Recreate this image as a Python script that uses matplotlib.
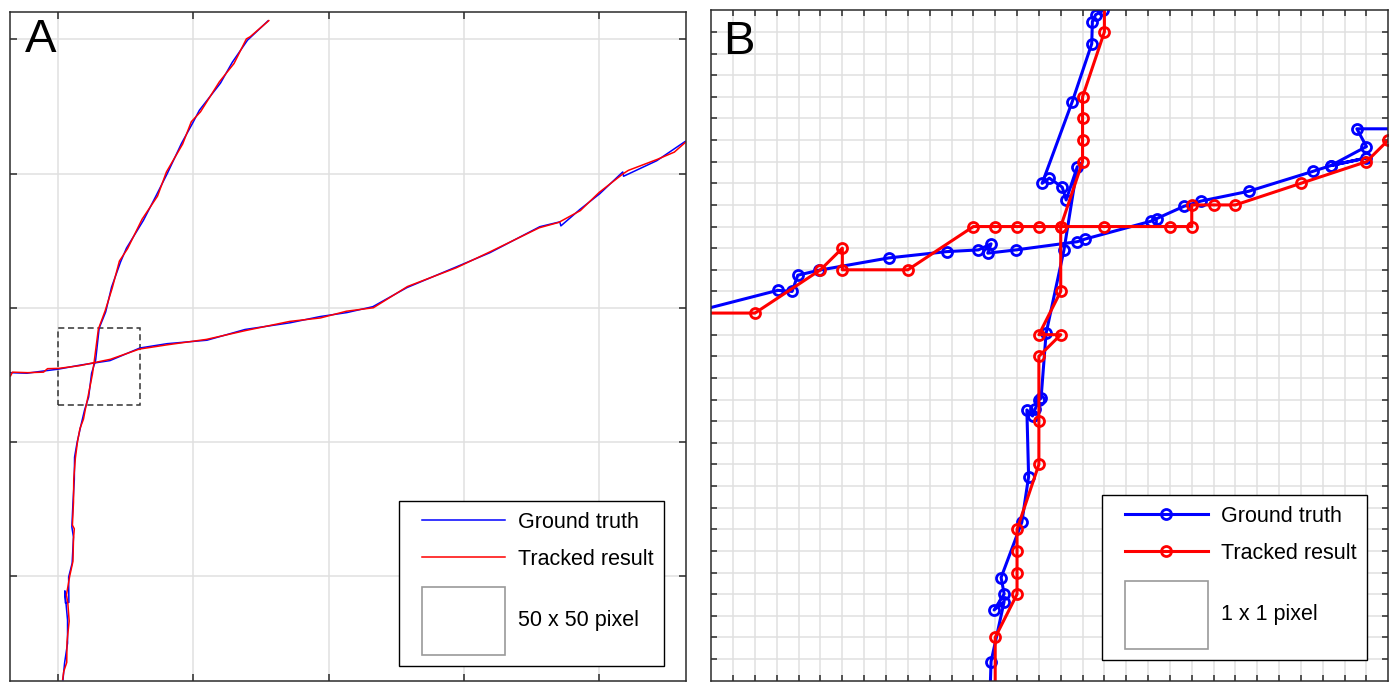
import matplotlib
matplotlib.use("Agg")
import matplotlib.pyplot as plt
from matplotlib.patches import Rectangle
from matplotlib.legend_handler import HandlerLine2D, HandlerBase

plt.rcParams['font.family'] = ['Liberation Sans', 'DejaVu Sans']

# ---------------- Panel A data (image pixel coordinates) ----------------
a_gt1_x = [51.7, 52.3, 53.4, 53.4, 52.4, 52.6, 53.9, 53.8, 55.1, 55.6, 55.0, 55.4, 55.9, 56.0,
           56.9, 58.2, 59.7, 61.2, 62.3, 63.8, 65.1, 67.5, 69.7, 73.0, 75.2, 81.5, 86.3,
           90.4, 95.6, 99.7, 102.2, 110.0, 114.4, 120.0, 127.6]
a_gt1_y = [11.3, 17.6, 25.0, 33.6, 44.5, 40.0, 40.2, 49.6, 54.8, 64.5, 68.3, 77.2, 85.8, 94.3,
           99.6, 105.5, 111.9, 116.7, 125.6, 130.5, 142.4, 148.4, 157.7, 167.0, 172.2, 182.6, 192.0,
           200.2, 211.3, 218.8, 223.6, 233.7, 241.5, 249.7, 256.9]
a_tr1_x = [51.6, 52.0, 53.1, 53.2, 54.0, 53.5, 53.0, 54.2, 55.4, 55.6, 55.9, 55.2, 55.6, 55.7,
           56.3, 57.1, 58.0, 59.3, 60.0, 61.0, 62.6, 63.4, 64.8, 67.3, 69.9, 72.6, 75.6, 81.0,
           86.7, 90.0, 96.0, 99.2, 102.6, 109.6, 115.0, 119.6, 121.0, 127.9]
a_tr1_y = [11.5, 14.5, 17.8, 25.5, 33.2, 40.0, 43.0, 50.0, 55.5, 64.0, 67.6, 69.0, 77.5, 86.2,
           94.0, 100.2, 105.0, 108.5, 112.2, 117.0, 125.2, 131.0, 142.0, 148.8, 157.2, 167.4, 172.0, 183.0,
           191.6, 200.6, 211.0, 219.3, 223.0, 234.2, 241.0, 250.2, 251.0, 257.0]
a_gt2_x = [32.1, 38.4, 44.3, 49.9, 58.0, 69.1, 80.2, 90.2, 105.0, 119.1, 135.8, 146.8, 156.8,
           166.4, 179.0, 197.5, 209.7, 228.2, 235.6, 236.0, 243.0, 250.4, 258.9, 259.2, 271.5,
           281.9, 283.5]
a_gt2_y = [125.8, 125.6, 126.4, 127.1, 128.6, 130.3, 135.0, 136.6, 137.9, 141.9, 144.4, 146.7, 148.2,
           150.4, 157.5, 165.3, 170.5, 180.2, 182.0, 180.5, 186.6, 192.5, 200.6, 199.0, 204.8,
           211.9, 212.5]
a_tr2_x = [32.3, 33.0, 38.6, 44.5, 46.0, 50.1, 57.8, 69.3, 80.0, 90.4, 104.8, 119.3, 135.6, 147.0,
           156.6, 166.6, 179.2, 197.3, 209.9, 228.0, 235.2, 243.2, 250.2, 259.1, 261.0, 271.7,
           278.0, 282.5]
a_tr2_y = [124.6, 126.0, 125.8, 126.0, 127.3, 127.4, 128.4, 130.8, 134.6, 136.2, 138.2, 141.5, 144.9, 146.2,
           148.7, 150.0, 157.9, 164.9, 170.9, 179.8, 181.8, 186.2, 193.0, 200.0, 201.2, 205.3,
           208.0, 212.0]
a_ticks = [50, 100, 150, 200, 250]
a_xlim = (32.1, 282.2)
a_ylim = (10.9, 260.1)
zoom_box = [50.0, 113.7, 30.2, 28.6]   # x0, y0, width, height

# ---------------- Panel B data (zoomed region, pixel units) ----------------
b_gt_h_x = [-1.0, 3.04, 3.70, 3.96, 4.93, 8.13, 10.77, 12.23, 12.81, 12.66, 13.95, 16.76, 17.11,
            20.14, 20.40, 21.65, 22.43, 24.60, 27.54, 28.37, 29.98, 28.37, 30.00, 29.56, 32.0]
b_gt_h_y = [17.0, 18.05, 18.0, 18.75, 18.98, 19.55, 19.84, 19.92, 20.2, 19.77, 19.92, 20.3, 20.42,
            21.25, 21.37, 21.94, 22.18, 22.63, 23.55, 23.82, 24.17, 23.82, 24.7, 25.52, 25.52]
b_gt_v_x = [12.75, 12.81, 13.41, 12.95, 13.41, 13.27, 14.22, 14.53, 14.45, 14.71, 14.83, 14.99,
            15.10, 15.33, 16.15, 16.76, 16.25, 16.07, 15.48, 15.15, 16.53, 17.42, 17.45, 17.60,
            17.95, 18.1]
b_gt_v_y = [-1.0, 0.88, 3.66, 3.27, 4.01, 4.77, 7.33, 9.44, 12.52, 12.24, 12.56, 12.98,
            13.06, 16.06, 19.92, 23.77, 22.23, 22.82, 23.24, 23.0, 26.78, 29.45, 30.48, 30.8,
            31.0, 31.5]
b_tr_h_x = [-1, 2, 5, 6, 6, 9, 12, 13, 14, 15, 16, 18, 21, 22, 22, 23, 24, 27, 30, 31]
b_tr_h_y = [17, 17, 19, 20, 19, 19, 21, 21, 21, 21, 21, 21, 21, 21, 22, 22, 22, 23, 24, 25]
b_tr_v_x = [13, 13, 14, 14, 14, 14, 15, 15, 15, 16, 15, 16, 16, 17, 17, 17, 17, 18, 18]
b_tr_v_y = [-1, 2, 4, 5, 6, 7, 10, 12, 15, 16, 16, 18, 21, 24, 25, 26, 27, 30, 32]
b_ticks = list(range(1, 31))
b_lim = (0, 31)

labels = ['Ground truth', 'Tracked result']
box_labels = ['50 x 50 pixel', '1 x 1 pixel']

BLUE = '#0000ff'
RED = '#ff0000'
SPINE = '#2b2b2b'
GRID = '#e0e0e0'

fig = plt.figure(figsize=(13.99, 6.82), dpi=100)
axA = fig.add_axes([10 / 1399, 1 - 681 / 682, 675.7 / 1399, 668.7 / 682])
axB = fig.add_axes([711.3 / 1399, 1 - 680.7 / 682, 677 / 1399, 670.4 / 682])


class RectHandler(HandlerBase):
    def __init__(self, rect_h, **kw):
        super().__init__(**kw)
        self.rect_h = rect_h

    def create_artists(self, legend, orig_handle, xdescent, ydescent, width, height,
                       fontsize, trans):
        h = self.rect_h * fontsize
        yc = (height - ydescent) / 2
        r = Rectangle((-xdescent, yc - h / 2), width, h, facecolor='white',
                      edgecolor='#9a9a9a', lw=1.2, transform=trans)
        return [r]


def style_axes(ax, ticks, xlim, ylim, ticklen):
    ax.set_xlim(*xlim)
    ax.set_ylim(*ylim)
    ax.set_xticks(ticks)
    ax.set_yticks(ticks)
    ax.grid(True, color=GRID, lw=1.1)
    ax.set_axisbelow(True)
    ax.tick_params(direction='in', top=True, right=True, bottom=True, left=True,
                   length=ticklen, width=1.1, color=SPINE,
                   labelbottom=False, labelleft=False)
    for s in ax.spines.values():
        s.set_color(SPINE)
        s.set_linewidth(1.1)


def add_legend(ax, h_gt, h_tr, box_label, anchor):
    rect = Rectangle((0, 0), 1, 1)
    xp = 0.56
    leg = ax.legend([h_gt, h_tr, rect], labels + ['\n' + box_label + '\n'],
                    loc='lower right', bbox_to_anchor=anchor, borderaxespad=0,
                    fontsize=15.5, handlelength=4.42, handletextpad=0.6,
                    borderpad=0.5, labelspacing=0.75, fancybox=False,
                    framealpha=1, edgecolor='black',
                    handler_map={h_gt: HandlerLine2D(xpad=xp, numpoints=1),
                                 h_tr: HandlerLine2D(xpad=xp, numpoints=1),
                                 rect: RectHandler(3.2, xpad=xp)})
    leg.get_frame().set_linewidth(1.0)
    leg.get_texts()[2].set_linespacing(1.2)
    return leg


# ---------------- Panel A ----------------
style_axes(axA, a_ticks, a_xlim, a_ylim, 5)
gA, = axA.plot(a_gt1_x, a_gt1_y, color=BLUE, lw=1.1)
axA.plot(a_gt2_x, a_gt2_y, color=BLUE, lw=1.1)
tA, = axA.plot(a_tr1_x, a_tr1_y, color=RED, lw=1.1)
axA.plot(a_tr2_x, a_tr2_y, color=RED, lw=1.1)
axA.add_patch(Rectangle((zoom_box[0], zoom_box[1]), zoom_box[2], zoom_box[3],
                        fill=False, edgecolor='#333333', lw=1.1, linestyle=(0, (4, 2.4))))
axA.text(0.0222, 0.9915, 'A', transform=axA.transAxes, ha='left', va='top', fontsize=34)
add_legend(axA, gA, tA, box_labels[0], (0.9683, 0.0224))

# ---------------- Panel B ----------------
style_axes(axB, b_ticks, b_lim, b_lim, 4)
mk = dict(marker='o', ms=7.2, mfc='none', mew=2.0, lw=2.2)
gB, = axB.plot(b_gt_h_x, b_gt_h_y, color=BLUE, **mk)
axB.plot(b_gt_v_x, b_gt_v_y, color=BLUE, **mk)
tB, = axB.plot(b_tr_h_x, b_tr_h_y, color=RED, **mk)
axB.plot(b_tr_v_x, b_tr_v_y, color=RED, **mk)
axB.text(0.0175, 0.9855, 'B', transform=axB.transAxes, ha='left', va='top', fontsize=34)
add_legend(axB, gB, tB, box_labels[1], (0.969, 0.0309))

fig.savefig('out.png', dpi=100)
